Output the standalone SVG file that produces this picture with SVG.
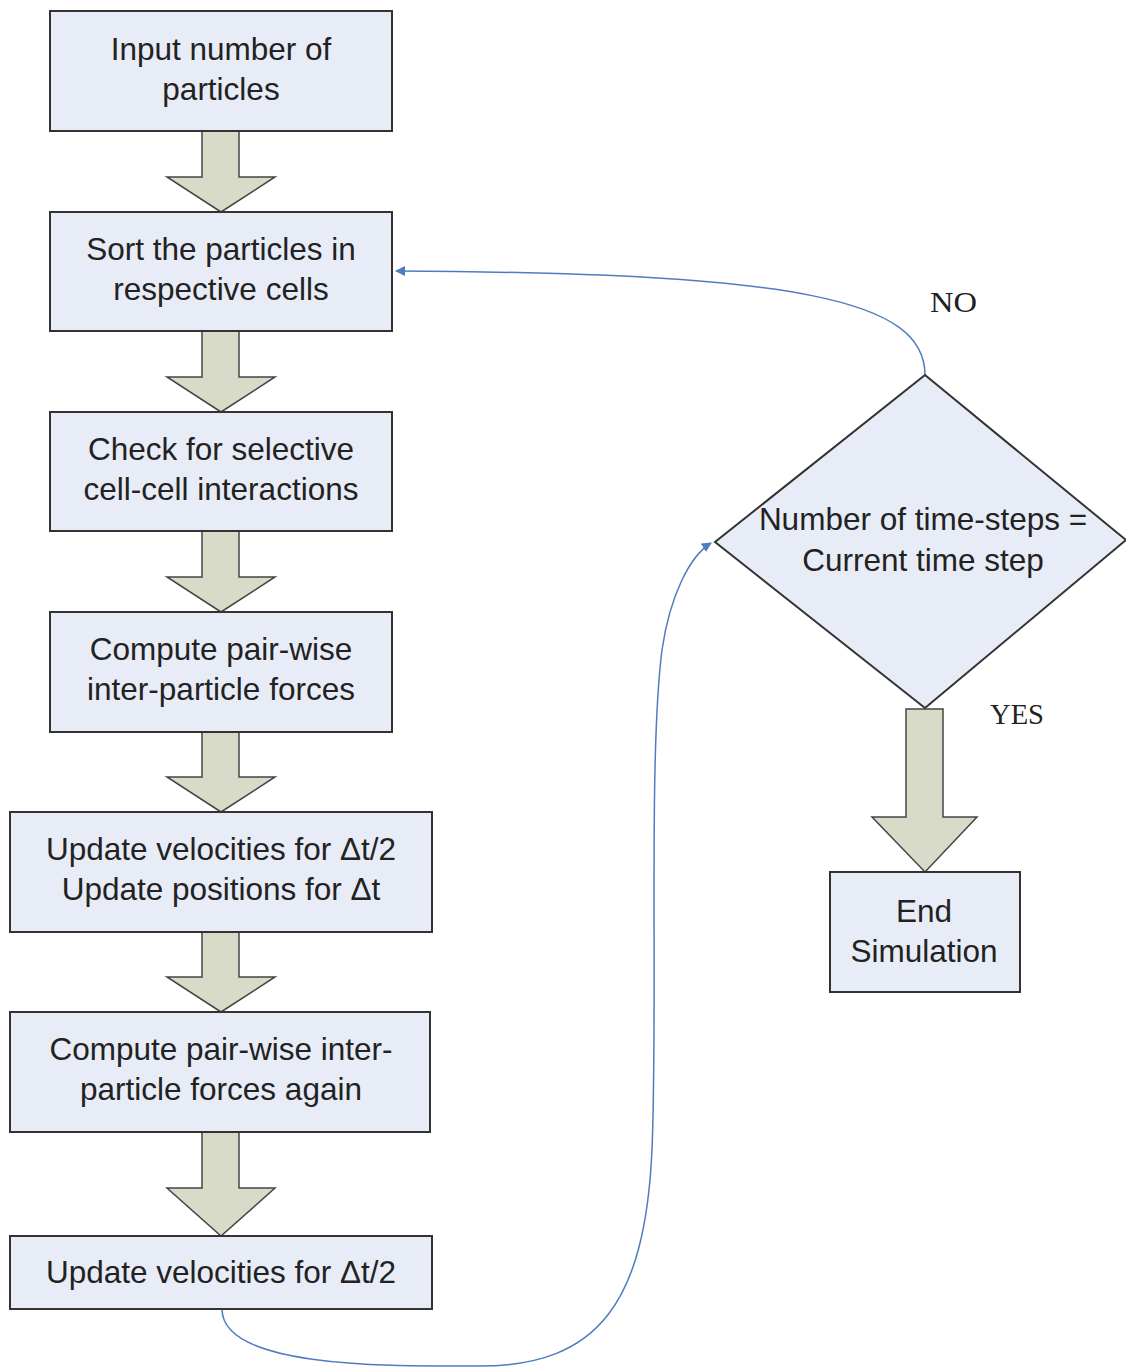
<svg xmlns="http://www.w3.org/2000/svg" width="1126" height="1367" viewBox="0 0 1126 1367">
<defs>
<style>
.box{fill:#E8ECF7;stroke:#333;stroke-width:2}
.arr{fill:#D9DBC9;stroke:#444;stroke-width:1.5;stroke-linejoin:miter}
.t{font-family:"Liberation Sans",Arial,sans-serif;font-size:31.5px;fill:#222;text-anchor:middle}
.lbl{font-family:"Liberation Serif","Times New Roman",serif;font-size:30px;fill:#222}
.con{fill:none;stroke:#4F7CC0;stroke-width:1.5}
</style>
<marker id="ah" viewBox="0 0 10 10" refX="9" refY="5" markerWidth="10" markerHeight="10" orient="auto" markerUnits="userSpaceOnUse">
<path d="M0,0 L10,5 L0,10 z" fill="#4F7CC0"/>
</marker>
</defs>
<rect width="1126" height="1367" fill="#fff"/>

<g id="connectors">
<path class="arr" d="M202,131 V177 H167 L221,212 L275,177 H239 V131 z"/>
<path class="arr" d="M202,331 V377 H167 L221,412 L275,377 H239 V331 z"/>
<path class="arr" d="M202,531 V577 H167 L221,612 L275,577 H239 V531 z"/>
<path class="arr" d="M202,732 V777 H167 L221,812 L275,777 H239 V732 z"/>
<path class="arr" d="M202,932 V977 H167 L221,1012 L275,977 H239 V932 z"/>
<path class="arr" d="M202,1132 V1188 H167 L221,1236 L275,1188 H239 V1132 z"/>
<path class="arr" d="M906,709 V817 H872 L925,872 L977,817 H943 V709 z"/>
<path class="con" marker-end="url(#ah)" d="M925,375 C925,300 800,273 396,271"/>
<path class="con" marker-end="url(#ah)" d="M222,1309 C222,1370 400,1366 480,1366 C600,1366 645,1300 652,1150 C658,1000 648,760 662,650 C670,595 690,556 711,543"/>
<text class="lbl" x="930" y="312" textLength="47" lengthAdjust="spacingAndGlyphs">NO</text>
<text class="lbl" x="990" y="724" textLength="54" lengthAdjust="spacingAndGlyphs">YES</text>
</g>

<g id="n1"><rect class="box" x="50" y="11" width="342" height="120"/>
<text class="t" x="221" y="60">Input number of</text><text class="t" x="221" y="100">particles</text></g>
<g id="n2"><rect class="box" x="50" y="212" width="342" height="119"/>
<text class="t" x="221" y="260">Sort the particles in</text><text class="t" x="221" y="300">respective cells</text></g>
<g id="n3"><rect class="box" x="50" y="412" width="342" height="119"/>
<text class="t" x="221" y="460">Check for selective</text><text class="t" x="221" y="500">cell-cell interactions</text></g>
<g id="n4"><rect class="box" x="50" y="612" width="342" height="120"/>
<text class="t" x="221" y="660">Compute pair-wise</text><text class="t" x="221" y="700">inter-particle forces</text></g>
<g id="n5"><rect class="box" x="10" y="812" width="422" height="120"/>
<text class="t" x="221" y="860">Update velocities for Δt/2</text><text class="t" x="221" y="900">Update positions for Δt</text></g>
<g id="n6"><rect class="box" x="10" y="1012" width="420" height="120"/>
<text class="t" x="221" y="1060">Compute pair-wise inter-</text><text class="t" x="221" y="1100">particle forces again</text></g>
<g id="n7"><rect class="box" x="10" y="1236" width="422" height="73"/>
<text class="t" x="221" y="1283">Update velocities for Δt/2</text></g>
<g id="n8"><path class="box" d="M925,375 L1126,540 L925,708 L715,542 z"/>
<text class="t" x="923" y="530">Number of time-steps =</text><text class="t" x="923" y="571">Current time step</text></g>
<g id="n9"><rect class="box" x="830" y="872" width="190" height="120"/>
<text class="t" x="924" y="922">End</text><text class="t" x="924" y="962">Simulation</text></g>
</svg>
